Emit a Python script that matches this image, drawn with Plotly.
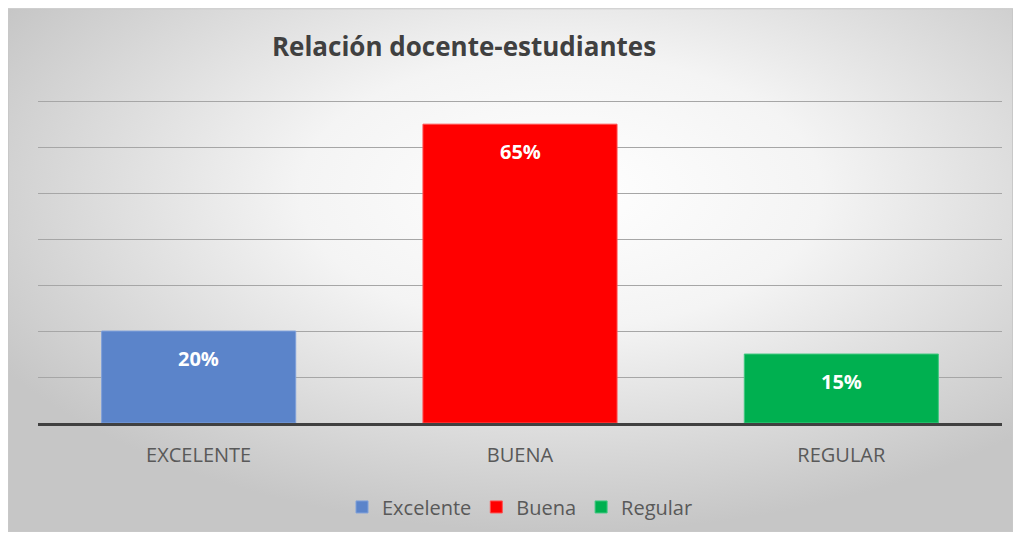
import plotly.graph_objects as go

categorias = ["EXCELENTE", "BUENA", "REGULAR"]
series = ["Excelente", "Buena", "Regular"]
valores = [0.20, 0.65, 0.15]
colores = ["#5b84ca", "#ff0000", "#00b050"]
bordes = ["#7fa0da", "#ff5050", "#40c880"]
etiquetas = ["20%", "65%", "15%"]

# la pagina se dibuja con 8 px de margen del body
off = 8
ymax = 0.72
eje_y = 423          # pixel del eje x en la referencia
px_por_unidad = 460
top = eje_y - ymax * px_por_unidad

fig = go.Figure()
for cat, nombre, val, col, borde, txt in zip(categorias, series, valores, colores, bordes, etiquetas):
    fig.add_trace(go.Bar(
        x=[cat], y=[val], name=nombre,
        marker=dict(color=col, line=dict(color=borde, width=1)),
        hoverinfo="skip",
    ))
    fig.add_annotation(x=cat, y=val, text="<b>" + txt + "</b>", showarrow=False,
                       yshift=-27, font=dict(color="white", size=20, family="Open Sans"))

svg = ("data:image/svg+xml;utf8,<svg xmlns='http://www.w3.org/2000/svg' width='1000' height='520' "
       "preserveAspectRatio='none'><defs><radialGradient id='g' cx='55%' cy='35%' r='65%'>"
       "<stop offset='0' stop-color='%23ffffff'/><stop offset='0.4' stop-color='%23f4f4f4'/>"
       "<stop offset='1' stop-color='%23c6c6c6'/></radialGradient></defs>"
       "<rect width='1000' height='520' fill='url(%23g)' stroke='%23c8c8c8' stroke-width='2'/></svg>")

pw, ph = 964, eje_y - top
fig.add_layout_image(dict(
    source=svg, xref="paper", yref="paper",
    x=(8 - 38) / pw, y=(eje_y - 8) / ph,
    sizex=(1013 - 8) / pw, sizey=(532 - 8) / ph,
    xanchor="left", yanchor="top", sizing="stretch", layer="below",
))

fig.update_layout(
    width=1021, height=539,
    margin=dict(l=38 - off, r=19 + off, t=top - off, b=539 - eje_y + off),
    paper_bgcolor="white", plot_bgcolor="rgba(0,0,0,0)",
    barmode="overlay", bargap=0.396,
    title=dict(text="<b>Relación docente-estudiantes</b>", x=(464 - off) / 1021, xanchor="center",
               y=1 - (47 - off) / 539, yanchor="middle",
               font=dict(family="Open Sans", size=26, color="#404040")),
    font=dict(family="Open Sans", color="#595959"),
    showlegend=True,
    legend=dict(orientation="h", x=0.5, xanchor="center", y=-84 / ph, yanchor="middle",
                font=dict(size=20, color="#595959"), bgcolor="rgba(0,0,0,0)",
                itemwidth=30, traceorder="normal"),
    xaxis=dict(showline=True, linecolor="#404040", linewidth=3, showgrid=False,
               tickfont=dict(size=20, color="#595959"), ticks="", ticklabelstandoff=12,
               fixedrange=True),
    yaxis=dict(range=[0, ymax], dtick=0.1, showgrid=True, gridcolor="#a6a6a6", gridwidth=1,
               showticklabels=False, zeroline=False, fixedrange=True),
)

fig.write_html("out.html")
